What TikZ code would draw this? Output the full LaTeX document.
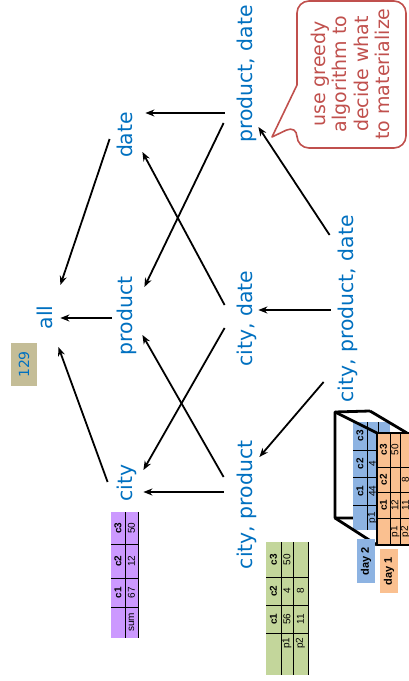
\documentclass[tikz,border=0pt]{standalone}
\usepackage{fontspec}
\setmainfont{DejaVu Sans}
\newfontfamily\tabfont{Liberation Sans}
\usepackage{tikz}
\usetikzlibrary{arrows.meta,calc}
\definecolor{cubeBlue}{HTML}{0070C0}
\definecolor{noteRed}{HTML}{C0504D}
\definecolor{costTan}{HTML}{C4BD97}
\definecolor{sumPurple}{HTML}{CC99FF}
\definecolor{cpGreen}{HTML}{C3D69B}
\definecolor{dayTwo}{HTML}{8DB3E2}
\definecolor{dayOne}{HTML}{FAC090}

\begin{document}
\begin{tikzpicture}[
    x=0.5pt, y=0.5pt,
    view/.style={text=cubeBlue, font=\fontsize{10.2}{12}\selectfont, inner sep=0pt, anchor=base, text height=7.5pt, text depth=2.5pt},
    arr/.style={-{Stealth[length=4.5pt,width=3.5pt]}, line width=0.9pt},
    grid/.style={line width=0.45pt},
    hdr/.style={inner sep=0pt, font=\tabfont\bfseries\fontsize{5}{6}\selectfont},
    val/.style={inner sep=0pt, font=\tabfont\fontsize{5}{6}\selectfont},
    daytag/.style={inner sep=0pt, minimum width=22pt, minimum height=9pt, font=\tabfont\bfseries\fontsize{5.5}{6}\selectfont},
    cubeline/.style={line width=1.4pt, line join=round},
    notebox/.style={draw=noteRed, line width=0.8pt, line join=round}
  ]
\begin{scope}[rotate=90, transform shape]
  \useasboundingbox (0,0) rectangle (681,-408);

  \node[inner sep=0pt, fill=costTan, minimum width=21.5pt, minimum height=13pt, text=cubeBlue, font=\fontsize{7}{8}\selectfont] (cost) at (316.5,-24) {129};

  \node[view] (all) at (363.5,-53) {all};
  \node[view] (city) at (198,-132) {city};
  \node[view] (prod) at (365,-132) {product};
  \node[view] (date) at (546,-132) {date};
  \node[view] (cp) at (176,-252) {city, product};
  \node[view] (cd) at (362.5,-252) {city, date};
  \node[view] (pd) at (607,-252) {product, date};
  \node[view] (cpd) at (372,-353) {city, product, date};

  \draw[arr] ($(date.north)+(-4,7)$) -- ($(all.south)+(32.5,-2)$);
  \draw[arr] ($(prod.north)+(-2,5)$) -- ($(all.south)+(-0.5,-2)$);
  \draw[arr] ($(city.north)+(1,9)$) -- ($(all.south)+(-29.5,0)$);
  \draw[arr] ($(pd.north)+(-39,12)$) -- ($(date.south)+(22,-8)$);
  \draw[arr] ($(pd.north)+(-49,13)$) -- ($(prod.south)+(29,-7)$);
  \draw[arr] ($(cd.north)+(13.5,12)$) -- ($(date.south)+(-17,-5)$);
  \draw[arr] ($(cd.north)+(-9.5,12)$) -- ($(city.south)+(13,-6)$);
  \draw[arr] ($(cp.north)+(28,13)$) -- ($(prod.south)+(-19,-5)$);
  \draw[arr] ($(cp.north)+(13,13)$) -- ($(city.south)+(-9,-6)$);
  \draw[arr] ($(cpd.north)+(74,8)$) -- ($(pd.south)+(-53,-1)$);
  \draw[arr] ($(cpd.north)+(-1,7)$) -- ($(cd.south)+(8.5,-1)$);
  \draw[arr] ($(cpd.north)+(-73,14)$) -- ($(cp.south)+(48,-2)$);

  % greedy note
  \draw[notebox] (556,-297) -- (544,-272) -- (596,-297) [rounded corners=6pt] -- (680,-297) -- (680,-406) -- (533,-406) -- (533,-297) -- cycle;
  \node[text=noteRed, align=center, inner sep=0pt, font=\fontsize{9.5}{10.75}\selectfont] (note) at (607,-350.5) {use greedy\\algorithm to\\decide what\\to materialize};

  % city table
  \fill[sumPurple] (43,-111) rectangle (169,-138);
  \draw[grid] (43,-125) -- (169,-125) (43,-138) -- (169,-138);
  \foreach \u in {74,103,137} \draw[grid] (\u,-111) -- (\u,-138);
  \node[val] (sum) at (58.5,-131.5) {sum};
  \foreach \u/\c/\v [count=\i] in {88.5/c1/67, 120/c2/12, 153/c3/50} {
    \node[hdr] (sumh\i) at (\u,-118) {\c};
    \node[val] (sumv\i) at (\u,-131.5) {\v};
  }

  % city, product table
  \fill[cpGreen] (6,-266) rectangle (139,-308);
  \draw[grid] (6,-281) -- (139,-281) (6,-293) -- (139,-293) (6,-308) -- (139,-308);
  \foreach \u in {48,76,104} \draw[grid] (\u,-266) -- (\u,-308);
  \node[val] (cpr1) at (38,-287) {p1};
  \node[val] (cpr2) at (38,-300.5) {p2};
  \foreach \u/\c/\a/\b [count=\i] in {62/c1/56/11, 90/c2/4/8, 121.5/c3/50/{}} {
    \node[hdr] (cph\i) at (\u,-273.5) {\c};
    \node[val] (cpa\i) at (\u,-287) {\a};
    \node[val] (cpb\i) at (\u,-300.5) {\b};
  }

  % cube of days
  \draw[cubeline] (163,-353) -- (163,-335) -- (269,-335) -- (270,-370);
  \fill[dayTwo] (151,-353) rectangle (259,-390);
  \draw[grid] (151,-367) -- (259,-367) (151,-378) -- (259,-378);
  \foreach \u in {176,204,231} \draw[grid] (\u,-353) -- (\u,-390);
  \node[val] (twor1) at (163.5,-372.5) {p1};
  \foreach \u/\c/\a [count=\i] in {190/c1/44, 217.5/c2/4, 245/c3/{}} {
    \node[hdr] (twoh\i) at (\u,-360) {\c};
    \node[val] (twoa\i) at (\u,-372.5) {\a};
  }
  \draw[cubeline] (269,-335) -- (248,-377) (270,-370) -- (248,-407) (163,-335) -- (136,-377);
  \fill[dayOne] (136,-377) rectangle (248,-415);
  \draw[grid] (136,-390) -- (248,-390) (136,-400) -- (248,-400);
  \foreach \u in {163,189,214} \draw[grid] (\u,-377) -- (\u,-415);
  \node[val] (oner1) at (149.5,-395) {p1};
  \node[val] (oner2) at (149.5,-405.5) {p2};
  \foreach \u/\c/\a/\b [count=\i] in {176/c1/12/11, 201.5/c2/{}/8, 231/c3/50/{}} {
    \node[hdr] (oneh\i) at (\u,-383.5) {\c};
    \node[val] (onea\i) at (\u,-395) {\a};
    \node[val] (oneb\i) at (\u,-405.5) {\b};
  }
  \draw[cubeline] (136,-415) -- (136,-377) -- (248,-377) -- (248,-415);

  \node[daytag, fill=dayTwo] (day2) at (120,-366) {day 2};
  \node[daytag, fill=dayOne] (day1) at (110,-389) {day 1};
\end{scope}
\end{tikzpicture}
\end{document}
